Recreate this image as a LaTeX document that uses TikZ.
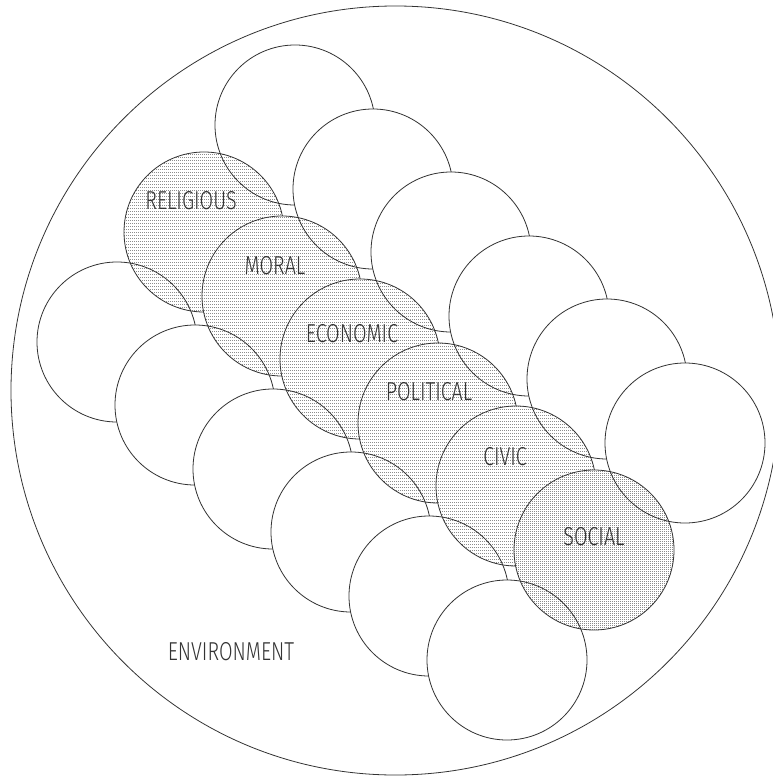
\documentclass[tikz,border=0pt]{standalone}
\usepackage{fontspec}
\newfontfamily\cadfont{Fira Sans}[UprightFont={* Light}, FakeStretch=0.76]
\usetikzlibrary{patterns}

% stippled fills for the middle band
\pgfdeclarepatternformonly{stipple}{\pgfpointorigin}{\pgfpoint{1bp}{1bp}}{\pgfpoint{2bp}{3bp}}{%
  \pgfpathrectangle{\pgfpointorigin}{\pgfpoint{1bp}{1bp}}\pgfusepath{fill}}
\pgfdeclarepatternformonly{densestipple}{\pgfpointorigin}{\pgfpoint{1bp}{1bp}}{\pgfpoint{2bp}{2bp}}{%
  \pgfpathrectangle{\pgfpointorigin}{\pgfpoint{1bp}{1bp}}\pgfusepath{fill}}

\begin{document}
\begin{tikzpicture}[
    x=1bp, y=-1bp,
    outline/.style={draw=black!80, line width=0.8bp},
    disc/.style={circle, outline, fill=white, minimum size=160bp, inner sep=0pt},
    band/.style={circle, outline, minimum size=160bp, inner sep=0pt,
                 preaction={fill=white}, pattern=stipple, pattern color=black!45},
    tag/.style={font=\cadfont\fontsize{26}{26}\selectfont, text=black!80, inner sep=0pt}
]

    \useasboundingbox (0,0) rectangle (773,776);

    % Environment
    \node[circle, outline, minimum size=769bp, inner sep=0pt] (environment) at (395.5,390.5) {};

    % Upper row
    \node[disc] (top1) at (295,125) {};
    \node[disc] (top2) at (373,189) {};
    \node[disc] (top3) at (451,252) {};
    \node[disc] (top4) at (529,316) {};
    \node[disc] (top5) at (607,379) {};
    \node[disc] (top6) at (685,443) {};

    % Lower row
    \node[disc] (bot1) at (117,342) {};
    \node[disc] (bot2) at (195,405) {};
    \node[disc] (bot3) at (273,469) {};
    \node[disc] (bot4) at (351,532) {};
    \node[disc] (bot5) at (429,596) {};
    \node[disc] (bot6) at (507,660) {};

    % Middle band
    \node[band] (religious) at (204,232) {};
    \node[band] (moral)     at (282,296) {};
    \node[band] (economic)  at (360,359) {};
    \node[band] (political) at (438,423) {};
    \node[band] (civic)     at (516,486) {};
    \node[band, pattern=densestipple] (social) at (594,550) {};

    % Outer rows seen through the band
    \begin{scope}
        \clip (religious.center) circle [radius=80bp] (moral.center) circle [radius=80bp]
              (economic.center) circle [radius=80bp] (political.center) circle [radius=80bp]
              (civic.center) circle [radius=80bp] (social.center) circle [radius=80bp];
        \draw[outline] (top1.center) circle [radius=80bp] (top2.center) circle [radius=80bp]
                       (top3.center) circle [radius=80bp] (top4.center) circle [radius=80bp]
                       (top5.center) circle [radius=80bp] (top6.center) circle [radius=80bp];
        \draw[outline] (bot1.center) circle [radius=80bp] (bot2.center) circle [radius=80bp]
                       (bot3.center) circle [radius=80bp] (bot4.center) circle [radius=80bp]
                       (bot5.center) circle [radius=80bp] (bot6.center) circle [radius=80bp];
    \end{scope}

    % Labels
    \node[tag] (lblreligious) at (191,201) {RELIGIOUS};
    \node[tag] (lblmoral)     at (275,266) {MORAL};
    \node[tag] (lbleconomic)  at (352,334) {ECONOMIC};
    \node[tag] (lblpolitical) at (429,392) {POLITICAL};
    \node[tag] (lblcivic)     at (505,457) {CIVIC};
    \node[tag] (lblsocial)    at (594,537) {SOCIAL};
    \node[tag] (lblenv)       at (231,652) {ENVIRONMENT};

\end{tikzpicture}
\end{document}
